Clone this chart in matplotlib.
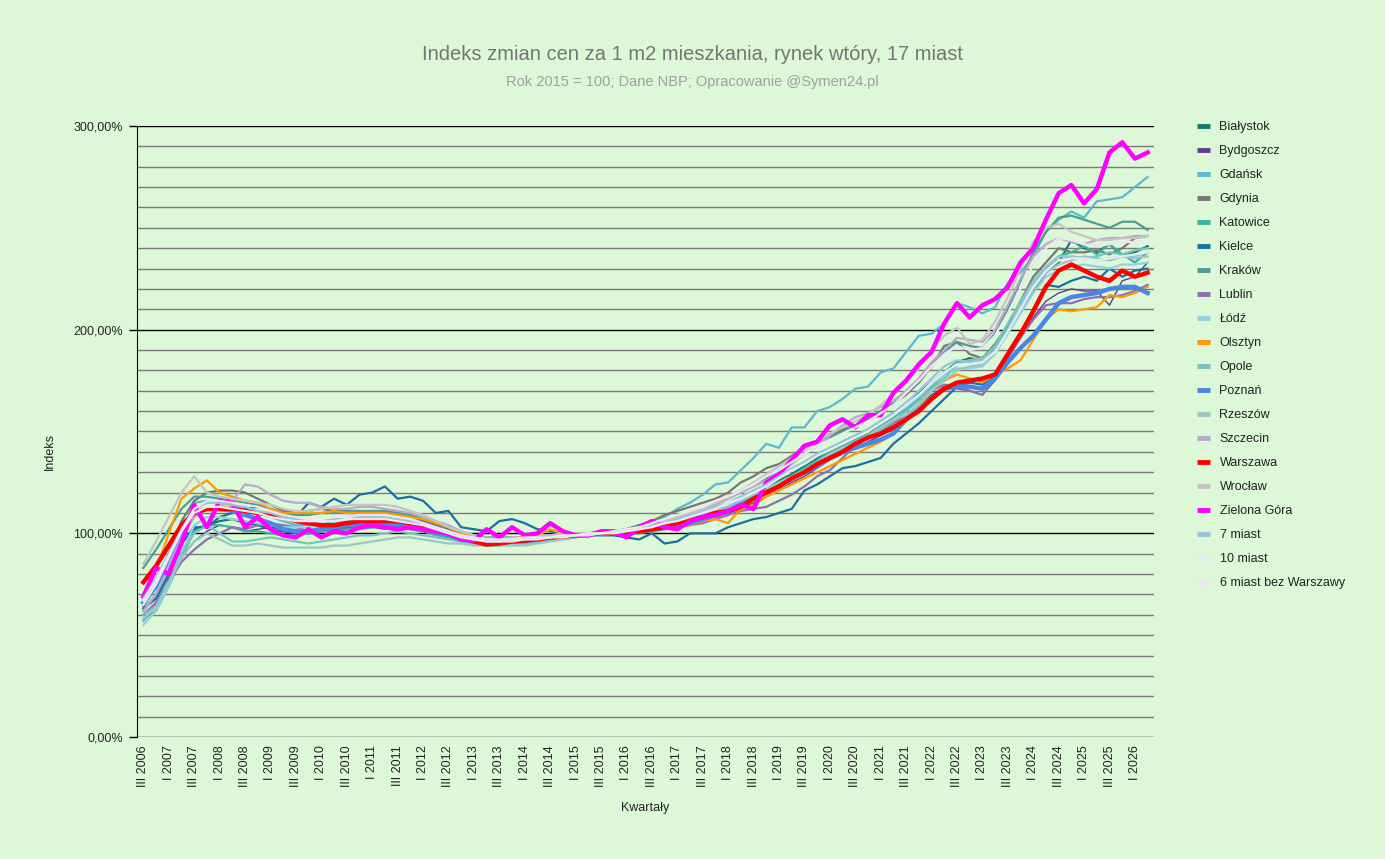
import numpy as np
import matplotlib
matplotlib.use('Agg')
import matplotlib.pyplot as plt
from matplotlib.lines import Line2D

plt.rcParams['font.family'] = ['Liberation Sans', 'DejaVu Sans']

# quarters III 2006 .. II 2026
quarters = []
for y in range(2006, 2027):
    for q in ['I', 'II', 'III', 'IV']:
        quarters.append(q + ' ' + str(y))
quarters = quarters[2:82]

bialystok = [62, 70, 84, 95, 102, 104, 106, 107, 105, 104, 102, 101, 100, 100, 101, 102, 102, 103, 103, 104,
             104, 103, 102, 101, 100, 99, 98, 97, 97, 98, 98, 98, 99, 99, 99, 100, 100, 100, 101, 102,
             103, 104, 106, 107, 109, 111, 113, 116, 119, 122, 126, 129, 133, 137, 141, 145, 148, 151, 155, 159,
             164, 169, 174, 179, 184, 186, 185, 190, 200, 210, 219, 228, 233, 244, 240, 238, 242, 236, 238, 241]
bydgoszcz = [63, 68, 78, 88, 96, 101, 104, 103, 101, 102, 103, 102, 101, 101, 102, 103, 103, 103, 103, 102,
             102, 102, 101, 100, 99, 98, 97, 96, 96, 97, 97, 97, 98, 99, 99, 100, 100, 100, 101, 101,
             102, 103, 104, 105, 107, 108, 110, 112, 115, 118, 121, 125, 128, 132, 136, 139, 142, 145, 148, 151,
             156, 162, 168, 172, 171, 170, 168, 175, 186, 196, 206, 214, 218, 220, 219, 219, 212, 224, 226, 233]
gdansk = [57, 65, 80, 100, 115, 116, 115, 114, 112, 110, 108, 106, 104, 104, 104, 106, 108, 109, 110, 110,
          109, 107, 106, 104, 102, 99, 97, 95, 95, 95, 95, 96, 97, 98, 99, 100, 100, 101, 102, 104,
          105, 108, 112, 115, 119, 124, 125, 131, 137, 144, 142, 152, 152, 160, 162, 166, 171, 172, 179, 181,
          189, 197, 198, 203, 213, 211, 208, 211, 223, 228, 236, 248, 254, 258, 255, 263, 264, 265, 270, 275]
gdynia = [64, 74, 90, 106, 116, 120, 121, 121, 120, 117, 114, 111, 110, 111, 112, 111, 111, 110, 110, 111,
          110, 109, 106, 104, 102, 100, 98, 97, 97, 98, 98, 99, 99, 100, 100, 100, 100, 101, 102, 104,
          106, 109, 111, 113, 115, 117, 120, 125, 128, 132, 134, 138, 142, 145, 148, 151, 153, 156, 160, 164,
          168, 174, 182, 192, 194, 188, 186, 193, 202, 214, 226, 233, 240, 238, 238, 239, 237, 240, 245, 246]
katowice = [58, 62, 74, 88, 101, 104, 104, 103, 101, 101, 100, 99, 99, 100, 101, 101, 102, 102, 103, 103,
            103, 102, 101, 99, 98, 97, 96, 96, 96, 96, 97, 97, 98, 98, 99, 99, 100, 100, 101, 101,
            102, 103, 104, 106, 108, 110, 112, 115, 118, 121, 125, 128, 132, 136, 140, 143, 146, 149, 153, 157,
            161, 166, 172, 178, 184, 185, 186, 192, 202, 212, 222, 230, 236, 238, 241, 237, 242, 237, 233, 238]
kielce = [63, 68, 80, 95, 103, 103, 108, 110, 112, 113, 112, 110, 108, 115, 113, 117, 114, 119, 120, 123,
          117, 118, 116, 110, 111, 103, 102, 101, 106, 107, 105, 102, 101, 100, 100, 99, 99, 99, 98, 97,
          100, 95, 96, 100, 100, 100, 103, 105, 107, 108, 110, 112, 121, 124, 128, 132, 133, 135, 137, 144,
          149, 154, 160, 166, 172, 174, 173, 177, 187, 198, 210, 222, 221, 224, 226, 224, 230, 226, 229, 230]
krakow = [83, 92, 102, 112, 118, 118, 117, 116, 115, 114, 112, 110, 109, 109, 110, 110, 111, 111, 111, 111,
          110, 109, 107, 105, 103, 101, 99, 98, 98, 98, 98, 99, 99, 99, 100, 100, 100, 101, 102, 103,
          104, 106, 108, 110, 112, 115, 118, 121, 124, 127, 131, 135, 139, 143, 147, 150, 153, 156, 160, 164,
          169, 175, 182, 189, 194, 192, 191, 198, 210, 224, 238, 248, 255, 256, 254, 252, 250, 253, 253, 249]
lublin = [60, 66, 76, 86, 92, 97, 100, 103, 102, 104, 105, 104, 103, 101, 103, 103, 104, 103, 103, 104,
          103, 102, 101, 100, 99, 98, 97, 96, 96, 96, 97, 97, 98, 98, 99, 99, 100, 100, 100, 100,
          101, 102, 103, 104, 105, 107, 109, 111, 112, 113, 116, 119, 123, 128, 131, 137, 143, 147, 150, 154,
          158, 163, 170, 173, 172, 170, 168, 176, 186, 196, 205, 212, 213, 213, 215, 216, 216, 217, 219, 222]
lodz = [55, 62, 74, 90, 104, 108, 108, 107, 106, 105, 104, 103, 103, 103, 104, 105, 106, 106, 106, 106,
        105, 104, 103, 101, 99, 97, 95, 94, 94, 95, 95, 96, 97, 98, 99, 99, 100, 100, 101, 102,
        103, 104, 106, 108, 111, 113, 115, 118, 121, 124, 128, 131, 135, 139, 142, 145, 148, 151, 154, 158,
        162, 167, 173, 178, 181, 181, 182, 188, 198, 208, 218, 226, 229, 231, 232, 231, 230, 232, 232, 233]
olsztyn = [70, 82, 100, 117, 122, 126, 120, 118, 116, 115, 112, 110, 110, 110, 110, 111, 110, 110, 110, 110,
           109, 108, 107, 105, 103, 100, 98, 96, 97, 98, 98, 99, 102, 100, 100, 100, 101, 101, 102, 103,
           103, 104, 104, 104, 106, 107, 105, 112, 114, 118, 121, 124, 127, 130, 133, 136, 139, 142, 145, 149,
           155, 162, 170, 175, 178, 176, 174, 178, 181, 185, 195, 205, 210, 209, 210, 211, 217, 216, 218, 221]
opole = [60, 64, 76, 90, 100, 104, 100, 96, 96, 97, 98, 97, 96, 95, 96, 97, 98, 99, 99, 100,
         101, 100, 99, 98, 97, 96, 95, 94, 94, 95, 96, 96, 97, 97, 98, 99, 99, 100, 101, 102,
         103, 104, 105, 106, 108, 110, 112, 114, 117, 120, 123, 126, 130, 134, 138, 141, 144, 147, 151, 155,
         160, 165, 171, 176, 183, 185, 186, 192, 203, 214, 224, 231, 234, 236, 235, 236, 238, 237, 239, 240]
poznan = [66, 74, 88, 100, 110, 112, 112, 111, 109, 107, 105, 102, 101, 101, 102, 103, 104, 104, 104, 104,
          104, 103, 102, 101, 99, 97, 96, 95, 95, 96, 96, 97, 98, 98, 99, 99, 100, 100, 100, 101,
          102, 103, 104, 105, 107, 109, 111, 114, 117, 120, 123, 127, 130, 133, 137, 140, 142, 144, 146, 149,
          156, 161, 166, 171, 172, 172, 171, 176, 184, 191, 197, 205, 213, 216, 217, 218, 220, 221, 221, 218]
rzeszow = [58, 64, 76, 88, 96, 100, 97, 94, 94, 95, 94, 93, 93, 93, 93, 94, 94, 95, 96, 97,
           98, 98, 97, 96, 95, 95, 94, 94, 94, 94, 94, 95, 96, 97, 98, 99, 99, 100, 101, 102,
           103, 104, 105, 107, 109, 111, 113, 116, 119, 122, 125, 128, 131, 135, 139, 142, 145, 148, 152, 156,
           158, 163, 170, 175, 180, 182, 183, 189, 199, 210, 220, 228, 232, 234, 236, 235, 234, 236, 235, 236]
szczecin = [62, 70, 84, 98, 108, 112, 113, 116, 124, 123, 119, 116, 115, 115, 113, 112, 112, 113, 113, 112,
            111, 110, 108, 106, 104, 101, 99, 98, 97, 97, 97, 98, 98, 99, 99, 100, 100, 101, 102, 103,
            104, 106, 108, 110, 112, 114, 117, 120, 123, 126, 130, 134, 139, 143, 148, 153, 157, 159, 162, 165,
            170, 176, 184, 190, 196, 195, 194, 200, 212, 225, 236, 242, 245, 243, 242, 244, 245, 245, 246, 246]
warszawa = [76, 84, 94, 104, 110, 112, 112, 112, 111, 110, 109, 108, 106, 105, 104, 104, 105, 106, 106, 106,
            106, 105, 104, 102, 100, 98, 96, 94.5, 95, 96, 96.5, 97, 98, 98.5, 99, 99.5, 100, 100, 100.5, 101,
            102, 103, 105, 107, 108, 110, 111, 113, 117, 120, 123, 127, 130, 134, 137, 140, 144, 147, 149, 152,
            156, 160, 166, 171, 174, 175, 176, 178, 188, 198, 209, 221, 229, 232, 229, 226, 224, 229, 226, 228]
wroclaw = [85, 96, 108, 120, 128, 120, 118, 117, 116, 115, 114, 112, 111, 111, 112, 113, 114, 114, 114, 114,
           113, 111, 109, 106, 103, 101, 99, 97, 97, 98, 98, 99, 99, 100, 100, 100, 100, 101, 102, 103,
           104, 106, 108, 110, 112, 115, 118, 121, 125, 129, 133, 137, 141, 145, 149, 152, 155, 158, 163, 168,
           174, 181, 190, 197, 201, 193, 195, 204, 216, 230, 243, 250, 252, 248, 246, 244, 244, 245, 245, 246]
zielona_gora = [69, 83, 80, 95, 114, 103, 116, 115, 103, 108, 102, 99, 98, 102, 98, 101, 100, 103, 104, 103,
                102, 103, 102, 101, 100, 97, 96.5, 102, 98, 103, 99, 100, 105, 101, 99, 99, 101, 101, 98, 103,
                106, 103, 102, 106, 108, 109, 111, 114, 112, 125, 129, 136, 143, 145, 153, 156, 152, 158, 158, 169,
                175, 183, 189, 203, 213, 206, 212, 215, 221, 233, 240, 254, 267, 271, 262, 269, 287, 292, 284, 287]
miast7 = [68, 78, 90, 102, 112, 115, 115, 114, 113, 111, 110, 108, 107, 106, 106, 107, 108, 108, 108, 108,
          107, 106, 105, 103, 101, 99, 97, 96, 96, 97, 97, 98, 98, 99, 99, 100, 100, 101, 102, 103,
          104, 105, 107, 109, 111, 113, 115, 118, 121, 124, 128, 132, 135, 139, 142, 145, 148, 151, 155, 159,
          164, 170, 176, 182, 185, 184, 185, 190, 200, 212, 223, 231, 236, 236, 235, 234, 235, 236, 236, 238]
miast10 = [67, 77, 89, 101, 110, 113, 113, 112, 111, 110, 108, 107, 106, 106, 106, 106, 107, 107, 107, 107,
           106, 105, 104, 102, 100, 98, 97, 96, 96, 96, 97, 97, 98, 98, 99, 99, 100, 100, 101, 102,
           103, 105, 106, 108, 110, 112, 115, 117, 120, 123, 127, 131, 134, 138, 141, 144, 147, 150, 154, 158,
           163, 168, 174, 179, 183, 183, 184, 189, 199, 210, 221, 229, 234, 235, 235, 234, 235, 236, 237, 238]
miast6 = [65, 75, 88, 101, 112, 116, 116, 115, 114, 113, 111, 109, 108, 107, 107, 108, 108, 109, 109, 109,
          108, 107, 105, 103, 101, 99, 98, 97, 97, 97, 98, 98, 98, 99, 99, 100, 100, 101, 102, 103,
          105, 107, 109, 111, 113, 116, 118, 121, 124, 128, 131, 135, 139, 143, 146, 149, 152, 155, 159, 163,
          169, 175, 182, 188, 192, 190, 191, 197, 208, 220, 232, 240, 245, 244, 242, 241, 242, 243, 243, 244]

names = ['Białystok', 'Bydgoszcz', 'Gdańsk', 'Gdynia', 'Katowice', 'Kielce', 'Kraków', 'Lublin', 'Łódź',
         'Olsztyn', 'Opole', 'Poznań', 'Rzeszów', 'Szczecin', 'Warszawa', 'Wrocław', 'Zielona Góra',
         '7 miast', '10 miast', '6 miast bez Warszawy']
series = [bialystok, bydgoszcz, gdansk, gdynia, katowice, kielce, krakow, lublin, lodz,
          olsztyn, opole, poznan, rzeszow, szczecin, warszawa, wroclaw, zielona_gora,
          miast7, miast10, miast6]
colors = ['#0f7b6c', '#5c3d8f', '#5ab8d4', '#777777', '#3bb3a0', '#1c6ea4', '#4a9e94', '#8f6fae', '#93d0e4',
          '#ff9900', '#76c7bb', '#4a86e8', '#9ac7c4', '#bba7cc', '#ff0000', '#c4c4c4', '#ff00ff',
          '#9bc2dc', '#e3eef2', '#ebe8ee']
widths = [1.6, 1.0, 1.6, 1.6, 1.6, 1.6, 1.6, 1.6, 1.6,
          1.6, 1.6, 3.2, 1.6, 1.6, 3.2, 1.6, 3.2,
          1.6, 1.6, 1.6]

bg = '#ddf8d6'
W, H = 1385, 859
fig = plt.figure(figsize=(W / 100, H / 100), dpi=100, facecolor=bg)
ax = fig.add_axes([137/W, 1-737/H, (1154-137)/W, (737-126)/H])
ax.set_facecolor(bg)

x = np.arange(len(quarters))
for s, n, c, w in zip(series, names, colors, widths):
    ax.plot(x, s, color=c, lw=w, label=n, solid_joinstyle='round', zorder=3)

ax.set_xlim(-0.5, len(quarters) - 0.5)
ax.set_ylim(0, 300)
ax.set_yticks(np.arange(0, 301, 10), minor=True)
ax.set_yticks([0, 100, 200, 300])
ax.set_yticklabels([('%.2f' % v).replace('.', ',') + '%' for v in [0, 100, 200, 300]],
                   fontsize=9, color='#222222')
ax.grid(True, which='minor', axis='y', color='#7a7a7a', lw=1.0, zorder=1)
ax.grid(True, which='major', axis='y', color='black', lw=1.0, zorder=2)
ax.tick_params(axis='y', which='minor', length=0)
ax.tick_params(axis='y', which='major', length=6, width=1, color='black', pad=4)

ax.set_xticks(x[::2])
ax.set_xticklabels(quarters[::2], rotation=90, fontsize=9, color='#222222')
ax.tick_params(axis='x', length=0, pad=6)

for sp in ['top', 'right', 'bottom']:
    ax.spines[sp].set_visible(False)
ax.spines['left'].set_color('black')

fig.text(645/W, 1-808/H, 'Kwartały', ha='center', va='center', fontsize=9, color='#222222')
fig.text(50/W, 1-451/H, 'Indeks', ha='center', va='center', rotation=90, fontsize=9, color='#222222')

fig.text(0.5, 1-55/H, 'Indeks zmian cen za 1 m2 mieszkania, rynek wtóry, 17 miast',
         ha='center', va='center', fontsize=14.5, color='#757575')
fig.text(0.5, 1-82/H, 'Rok 2015 = 100; Dane NBP; Opracowanie @Symen24.pl',
         ha='center', va='center', fontsize=10.5, color='#a0a0a0')

handles = [Line2D([0], [0], color=c, lw=3.5, solid_capstyle='butt') for c in colors]
leg = fig.legend(handles, names, loc='upper left', bbox_to_anchor=(1192/W, 1-116/H),
                 frameon=False, fontsize=9, handlelength=1.0, handletextpad=0.8,
                 labelspacing=0.96, borderaxespad=0)
for t in leg.get_texts():
    t.set_color('#222222')

fig.savefig('out.png', dpi=100, facecolor=bg)
